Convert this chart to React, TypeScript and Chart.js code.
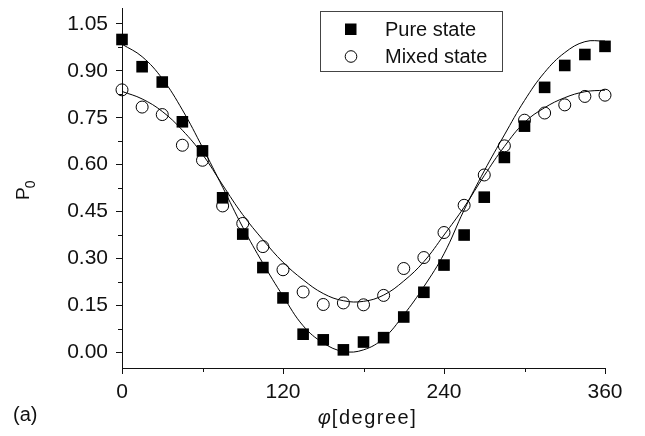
import React, { useEffect, useRef } from 'react';
import { Chart, registerables } from 'chart.js';

Chart.register(...registerables);

// ---- data ----
const angles = [0, 15, 30, 45, 60, 75, 90, 105, 120, 135, 150, 165, 180, 195, 210, 225, 240, 255, 270, 285, 300, 315, 330, 345, 360];
const pureMeasured = [1.0, 0.913, 0.864, 0.737, 0.644, 0.494, 0.378, 0.271, 0.174, 0.058, 0.04, 0.008, 0.033, 0.047, 0.113, 0.192, 0.279, 0.375, 0.496, 0.623, 0.723, 0.847, 0.917, 0.952, 0.978];
const mixedMeasured = [0.839, 0.784, 0.76, 0.662, 0.614, 0.468, 0.412, 0.338, 0.264, 0.193, 0.153, 0.158, 0.152, 0.182, 0.268, 0.303, 0.383, 0.47, 0.567, 0.66, 0.742, 0.765, 0.791, 0.818, 0.822];
const pureFit = [0.985, 0.945, 0.875, 0.775, 0.655, 0.528, 0.4, 0.285, 0.18, 0.085, 0.03, 0.003, 0.008, 0.045, 0.12, 0.21, 0.315, 0.455, 0.58, 0.695, 0.805, 0.895, 0.958, 0.993, 0.995];
const mixedFit = [0.834, 0.81, 0.77, 0.71, 0.633, 0.535, 0.44, 0.36, 0.288, 0.232, 0.188, 0.165, 0.163, 0.183, 0.228, 0.29, 0.375, 0.464, 0.565, 0.658, 0.735, 0.782, 0.814, 0.833, 0.838];

const xMajorTicks = [0, 120, 240, 360];
const xMinorTicks = [60, 180, 300];
const yMajorTicks = [0, 0.15, 0.3, 0.45, 0.6, 0.75, 0.9, 1.05];
const yMinorTicks = [0.075, 0.225, 0.375, 0.525, 0.675, 0.825, 0.975];

const seriesLabels = ['Pure state', 'Mixed state'];
const xTitleSymbol = 'φ';
const xTitleText = '[degree]';
const yTitleMain = 'P';
const yTitleSub = '0';
const panelLabel = '(a)';

const FONT = '"Liberation Sans", Arial, sans-serif';
const INK = '#111';

const decorPlugin = {
  id: 'decor',
  afterDraw(chart: any) {
    const { ctx, scales } = chart;
    const x = scales.x;
    const y = scales.y;
    ctx.save();
    ctx.strokeStyle = INK;
    ctx.lineWidth = 1;
    // minor ticks
    const bottom = chart.chartArea.bottom;
    const left = chart.chartArea.left;
    ctx.beginPath();
    for (const v of xMinorTicks) {
      const px = Math.round(x.getPixelForValue(v)) + 0.5;
      ctx.moveTo(px, bottom);
      ctx.lineTo(px, bottom + 4);
    }
    for (const v of yMinorTicks) {
      const py = Math.round(y.getPixelForValue(v)) + 0.5;
      ctx.moveTo(left, py);
      ctx.lineTo(left - 4, py);
    }
    ctx.stroke();

    ctx.fillStyle = INK;
    // x title
    ctx.textBaseline = 'alphabetic';
    ctx.textAlign = 'left';
    ctx.font = `italic 20px ${FONT}`;
    const symW = ctx.measureText(xTitleSymbol).width;
    ctx.font = `20px ${FONT}`;
    (ctx as any).letterSpacing = '1.5px';
    const txtW = ctx.measureText(xTitleText).width;
    const cx = (x.left + x.right) / 2 + 4;
    const startX = cx - (symW + 1 + txtW) / 2;
    ctx.font = `italic 20px ${FONT}`;
    (ctx as any).letterSpacing = '0px';
    ctx.fillText(xTitleSymbol, startX, 424);
    ctx.font = `20px ${FONT}`;
    (ctx as any).letterSpacing = '1.5px';
    ctx.fillText(xTitleText, startX + symW + 1, 424);
    (ctx as any).letterSpacing = '0px';

    // panel label
    ctx.font = `20px ${FONT}`;
    ctx.fillText(panelLabel, 13, 421);

    // y title, rotated
    ctx.save();
    ctx.translate(29, 200);
    ctx.rotate(-Math.PI / 2);
    ctx.font = `19px ${FONT}`;
    ctx.fillText(yTitleMain, 0, 0);
    const pw = ctx.measureText(yTitleMain).width;
    ctx.font = `14px ${FONT}`;
    ctx.fillText(yTitleSub, pw - 1, 6);
    ctx.restore();

    // legend
    const lx = 320.5, ly = 11.5, lw = 182, lh = 60;
    ctx.strokeStyle = '#444';
    ctx.strokeRect(lx, ly, lw, lh);
    ctx.font = `20px ${FONT}`;
    ctx.fillStyle = INK;
    ctx.fillText(seriesLabels[0], 385, 36);
    ctx.fillText(seriesLabels[1], 385, 63);
    ctx.fillStyle = '#000';
    ctx.fillRect(345, 23.5, 11.5, 11.5);
    ctx.beginPath();
    ctx.arc(351, 56.5, 5.8, 0, Math.PI * 2);
    ctx.strokeStyle = '#000';
    ctx.lineWidth = 1;
    ctx.stroke();
    ctx.restore();
  },
};

export default function App() {
  const ref = useRef<HTMLCanvasElement | null>(null);
  useEffect(() => {
    if (!ref.current) return;
    const chart = new Chart(ref.current, {
      type: 'scatter',
      data: {
        datasets: [
          {
            label: 'pure fit',
            data: angles.map((a, i) => ({ x: a, y: pureFit[i] })),
            showLine: true,
            borderColor: '#000',
            borderWidth: 1,
            pointRadius: 0,
            tension: 0.4,
            clip: false as any,
          },
          {
            label: 'mixed fit',
            data: angles.map((a, i) => ({ x: a, y: mixedFit[i] })),
            showLine: true,
            borderColor: '#000',
            borderWidth: 1,
            pointRadius: 0,
            tension: 0.4,
            clip: false as any,
          },
          {
            label: seriesLabels[0],
            data: angles.map((a, i) => ({ x: a, y: pureMeasured[i] })),
            pointStyle: 'rect',
            pointRadius: 8.2,
            backgroundColor: '#000',
            borderColor: '#000',
            borderWidth: 0,
            clip: false as any,
          },
          {
            label: seriesLabels[1],
            data: angles.map((a, i) => ({ x: a, y: mixedMeasured[i] })),
            pointStyle: 'circle',
            pointRadius: 6,
            backgroundColor: 'rgba(255,255,255,0)',
            borderColor: '#000',
            borderWidth: 1,
            clip: false as any,
          },
        ],
      },
      options: {
        animation: false,
        responsive: false,
        devicePixelRatio: 1,
        layout: { padding: { left: 0, right: 40, top: 4, bottom: 0 } },
        plugins: { legend: { display: false }, tooltip: { enabled: false } },
        events: [],
        scales: {
          x: {
            type: 'linear',
            min: 0,
            max: 360,
            afterBuildTicks: (s: any) => {
              s.ticks = xMajorTicks.map((v) => ({ value: v }));
            },
            afterFit: (s: any) => {
              s.height = 68;
              s.paddingLeft = 0;
              s.paddingRight = 0;
            },
            grid: { drawOnChartArea: false, drawTicks: true, tickLength: 6, color: INK },
            border: { display: true, color: INK, width: 1 },
            ticks: {
              color: INK,
              font: { family: FONT, size: 21 },
              padding: 6,
              maxRotation: 0,
              autoSkip: false,
              callback: (v: any) => String(v),
            },
          },
          y: {
            type: 'linear',
            min: -0.05,
            max: 1.1,
            afterBuildTicks: (s: any) => {
              s.ticks = yMajorTicks.map((v) => ({ value: v }));
            },
            afterFit: (s: any) => {
              s.width = 122;
              s.paddingTop = 0;
              s.paddingBottom = 0;
            },
            grid: { drawOnChartArea: false, drawTicks: true, tickLength: 6, color: INK },
            border: { display: true, color: INK, width: 1 },
            ticks: {
              color: INK,
              font: { family: FONT, size: 21 },
              padding: 8,
              autoSkip: false,
              callback: (v: any) => Number(v).toFixed(2),
            },
          },
        },
      },
      plugins: [decorPlugin],
    });
    return () => chart.destroy();
  }, []);
  return (
    <div style={{ position: 'fixed', left: 0, top: 0, width: 645, height: 436, background: '#fff' }}>
      <canvas ref={ref} width={645} height={436} style={{ width: 645, height: 436 }} />
    </div>
  );
}
